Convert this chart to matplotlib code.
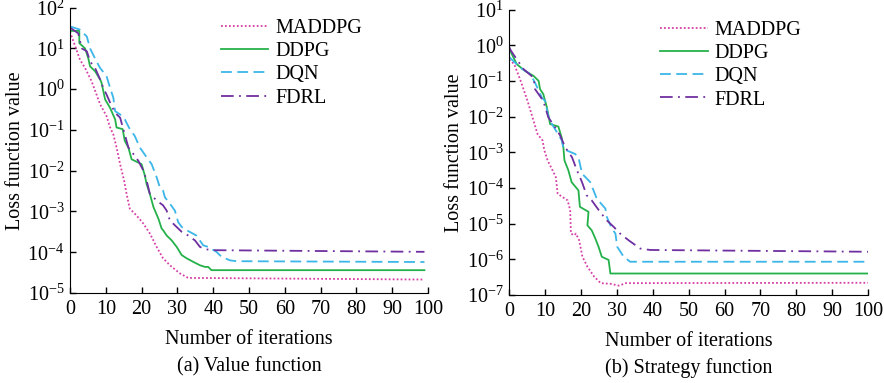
import numpy as np
import matplotlib
matplotlib.use('Agg')
import matplotlib.pyplot as plt
from matplotlib.ticker import LogLocator, LogFormatterMathtext, NullLocator

plt.rcParams['font.family'] = 'Liberation Serif'
plt.rcParams['mathtext.fontset'] = 'custom'
plt.rcParams['mathtext.rm'] = 'Liberation Serif'
plt.rcParams['mathtext.it'] = 'Liberation Serif:italic'
plt.rcParams['font.size'] = 14.5

labels = ['MADDPG', 'DDPG', 'DQN', 'FDRL']
colors = ['#d63fa6', '#25b14a', '#3cb6e8', '#6f2fa0']
styles = [(0, (1, 1.2)), '-', (0, (6, 3)), (0, (7, 3, 1, 3))]

# (a) value function: iteration knots and log10(loss)
a_maddpg_x = [0, 2.8, 4.2, 6, 7.4, 8.4, 10.2, 11.2, 12.1, 13, 14, 15.1, 15.8, 16.7, 18.6, 20.5, 22.3, 24.2, 26, 27.9, 30.7, 33, 99]
a_maddpg_y = [1.41, 0.72, 0.52, 0.20, -0.13, -0.37, -0.66, -0.94, -1.11, -1.43, -1.84, -2.24, -2.57, -2.93, -3.10, -3.30, -3.54, -3.87, -4.15, -4.32, -4.52, -4.63, -4.67]
a_ddpg_x = [0, 2.6, 2.6, 4.2, 5.1, 5.6, 7, 8.4, 8.8, 9.8, 11.2, 12.6, 13, 14.7, 15.3, 16.3, 17.2, 20, 20.9, 21.4, 22.3, 23.3, 24.7, 25.6, 26, 27, 28.4, 29.8, 31.2, 32.6, 34.5, 36.3, 37.7, 38.6, 39.5, 99]
a_ddpg_y = [1.43, 1.43, 1.13, 1.00, 0.76, 0.56, 0.44, 0.24, 0.16, -0.25, -0.46, -0.74, -0.94, -0.98, -1.27, -1.43, -1.72, -1.84, -2.12, -2.33, -2.57, -2.89, -3.18, -3.42, -3.46, -3.59, -3.71, -3.87, -4.07, -4.15, -4.24, -4.32, -4.36, -4.36, -4.44, -4.44]
a_dqn_x = [0, 2.8, 4.7, 5.6, 7.4, 8.4, 10.2, 11.2, 12.1, 12.6, 14, 15.3, 16.7, 18.1, 19.5, 21.4, 22.8, 24.2, 25.1, 26, 26.5, 27.9, 29.3, 30.2, 31.2, 32.6, 35.3, 37.2, 38.6, 40.9, 42.3, 44.7, 46.5, 99]
a_dqn_y = [1.54, 1.46, 1.29, 1.00, 0.68, 0.52, 0.32, 0.03, -0.21, -0.54, -0.62, -0.74, -0.98, -1.15, -1.43, -1.67, -1.84, -2.16, -2.41, -2.49, -2.65, -2.81, -2.98, -3.26, -3.38, -3.46, -3.59, -3.83, -3.87, -3.99, -4.11, -4.20, -4.22, -4.24]
a_fdrl_x = [0, 2.3, 3.3, 4.7, 5.6, 7, 8.4, 9.3, 10.2, 11.6, 12.6, 14, 15.3, 16.3, 17.7, 19.1, 20.5, 21.4, 22.3, 24.2, 26, 27, 27.9, 29.3, 31.2, 33, 34.9, 36.3, 38.1, 40.5, 99]
a_fdrl_y = [1.51, 1.37, 1.00, 0.93, 0.68, 0.52, 0.24, 0.03, -0.13, -0.41, -0.58, -0.70, -1.11, -1.43, -1.59, -1.76, -2.00, -2.24, -2.57, -2.73, -2.85, -2.98, -3.22, -3.34, -3.50, -3.59, -3.71, -3.87, -3.93, -3.95, -3.99]

# (b) strategy function
b_maddpg_x = [0, 1.4, 3.2, 5.1, 6.5, 7.9, 9.3, 9.8, 10.7, 12.1, 13, 13.5, 14.9, 16.3, 17, 17.2, 18.1, 18.6, 19.5, 20.4, 21.8, 23.7, 25.5, 28.3, 30.6, 32.5, 100]
b_maddpg_y = [-0.40, -0.53, -1.00, -1.56, -2.02, -2.49, -2.67, -2.95, -3.23, -3.51, -3.70, -4.16, -4.26, -4.35, -4.63, -5.28, -5.33, -5.28, -5.47, -5.93, -6.21, -6.49, -6.67, -6.69, -6.74, -6.67, -6.66]
b_ddpg_x = [0, 0.3, 2.1, 4.4, 6.8, 8.2, 8.6, 9.5, 10.5, 11.4, 13.7, 14.6, 15.1, 15.4, 16.5, 17.4, 19.3, 19.7, 22.1, 21.8, 23, 24, 24.9, 25.8, 27.7, 28.2, 100]
b_ddpg_y = [-0.07, -0.16, -0.53, -0.72, -0.86, -1.00, -1.23, -1.37, -1.74, -2.21, -2.28, -2.58, -2.86, -3.23, -3.51, -3.84, -4.07, -4.53, -4.67, -5.05, -5.19, -5.42, -5.65, -5.93, -6.02, -6.40, -6.40]
b_dqn_x = [0, 3.1, 5.9, 7.2, 9.1, 10, 10.9, 11.9, 13.3, 14.7, 15.1, 18.4, 19.3, 20.3, 22.6, 23.5, 24.4, 26.8, 27.2, 28.6, 29.6, 30.1, 31.9, 33.7, 100]
b_dqn_y = [-0.33, -0.63, -0.81, -1.05, -1.47, -1.56, -1.98, -2.21, -2.44, -2.67, -2.91, -3.05, -3.14, -3.60, -3.84, -4.07, -4.30, -4.58, -4.81, -5.14, -5.28, -5.65, -5.93, -6.07, -6.07]
b_fdrl_x = [0, 0.3, 1.2, 4, 6.8, 7.2, 9.5, 10.9, 12.8, 14.2, 15.6, 17.5, 18.9, 20.3, 21.6, 23, 25.3, 27.2, 29.1, 30.9, 33.3, 36.5, 39.3, 100]
b_fdrl_y = [-0.05, -0.12, -0.26, -0.67, -0.91, -1.23, -1.56, -2.02, -2.30, -2.53, -2.86, -3.14, -3.51, -3.84, -4.21, -4.35, -4.67, -4.91, -5.09, -5.28, -5.47, -5.70, -5.74, -5.79]

panel_a = [(a_maddpg_x, a_maddpg_y), (a_ddpg_x, a_ddpg_y), (a_dqn_x, a_dqn_y), (a_fdrl_x, a_fdrl_y)]
panel_b = [(b_maddpg_x, b_maddpg_y), (b_ddpg_x, b_ddpg_y), (b_dqn_x, b_dqn_y), (b_fdrl_x, b_fdrl_y)]

fig = plt.figure(figsize=(8.84, 3.83), dpi=100)
ax1 = fig.add_axes([0.0792, 0.235, 0.405, 0.745])
ax2 = fig.add_axes([0.576, 0.230, 0.406, 0.745])

def draw(ax, series, ylim, caption):
    for (xs, ys), lab, c, ls in zip(series, labels, colors, styles):
        ax.plot(xs, 10.0 ** np.array(ys), color=c, linestyle=ls, lw=1.3, label=lab)
    ax.set_yscale('log')
    ax.set_ylim(*ylim)
    ax.set_xlim(0, 100)
    ax.set_xticks(range(0, 101, 10))
    ax.yaxis.set_major_locator(LogLocator(base=10, numticks=20))
    ax.yaxis.set_major_formatter(LogFormatterMathtext())
    ax.yaxis.set_minor_locator(NullLocator())
    ax.spines['top'].set_visible(False)
    ax.spines['right'].set_visible(False)
    ax.tick_params(direction='in', length=4, width=1, labelsize=14.5)
    ax.tick_params(axis='x', pad=5)
    ax.tick_params(axis='y', pad=4)
    ax.set_xlabel('Number of iterations', labelpad=8)
    ax.set_ylabel('Loss function value')
    ax.yaxis.set_label_coords(-0.126, 0.5)
    ax.text(0.5, -0.258, caption, transform=ax.transAxes, ha='center', va='center')
    ax.legend(loc='upper left', bbox_to_anchor=(0.399, 0.988), frameon=False,
              handlelength=2.35, labelspacing=0.2, handletextpad=0.35, borderaxespad=0.0)

draw(ax1, panel_a, (1e-5, 1e2), '(a) Value function')
draw(ax2, panel_b, (1e-7, 1e1), '(b) Strategy function')

fig.savefig('out.png', dpi=100)
